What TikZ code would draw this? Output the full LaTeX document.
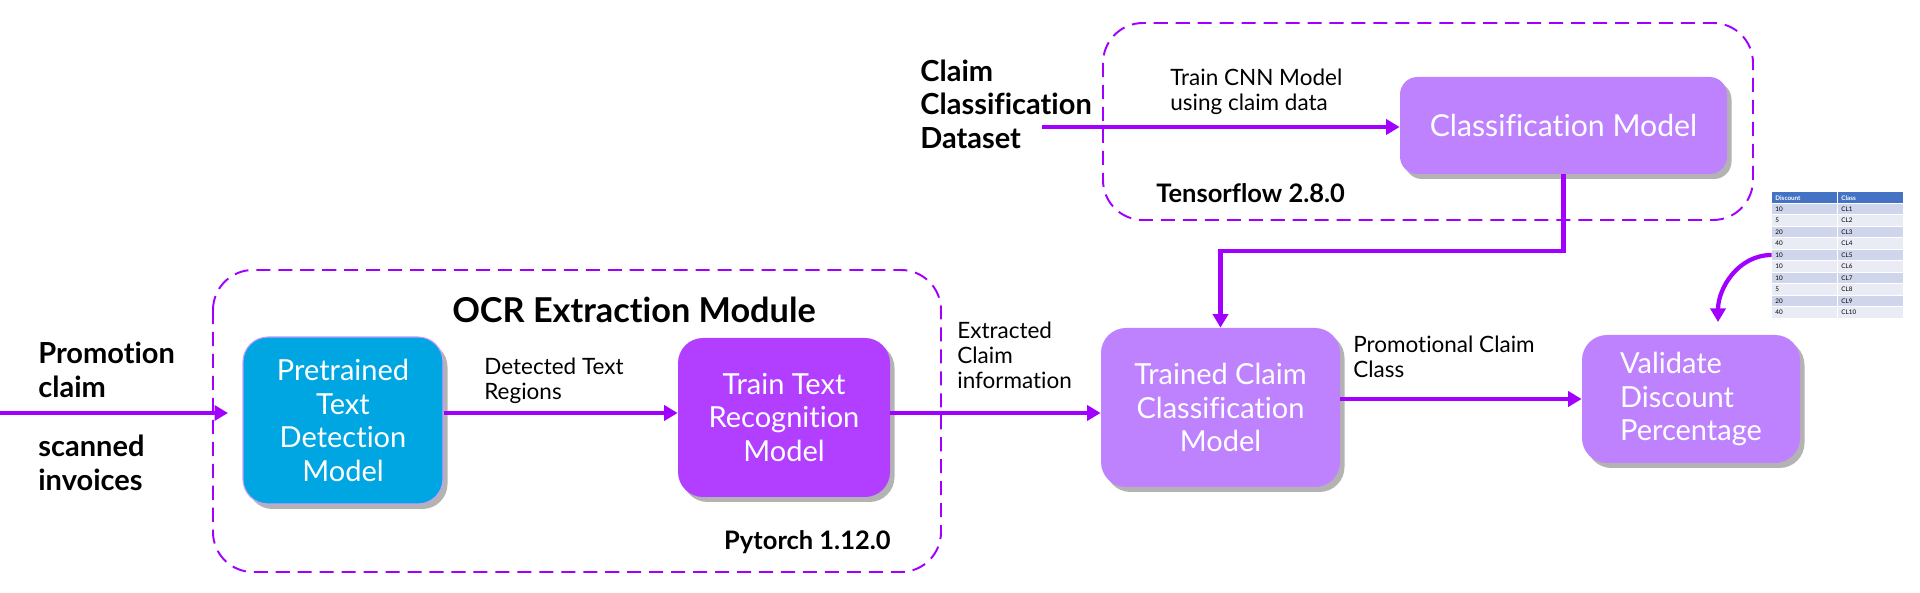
\documentclass[tikz,border=0pt]{standalone}
\usepackage{fontspec}
\setmainfont{Lato}[Ligatures=NoCommon]
\usepackage{xcolor}
\definecolor{cPurple}{HTML}{A100FF}
\definecolor{cBlue}{HTML}{00A6E1}
\definecolor{cViolet}{HTML}{B23EFF}
\definecolor{cLilac}{HTML}{BE82FF}
\definecolor{cHead}{HTML}{4472C4}
\definecolor{cRowA}{HTML}{CFD5EA}
\definecolor{cRowB}{HTML}{E9EBF5}
\usepackage{tikz}
\usetikzlibrary{positioning,arrows.meta,shadows,calc}
\newcommand{\upx}{0.2mm}
\tikzset{
  node-box/.style={rounded corners=5mm,align=center,text=white,inner sep=0pt,
    font=\fontsize{16.5}{19}\selectfont,
    drop shadow={shadow xshift=0.9mm,shadow yshift=-1mm,opacity=0.6}},
  node-blue/.style={node-box,fill=cBlue,draw=cLilac!80,line width=0.6pt},
  node-violet/.style={node-box,fill=cViolet},
  node-lilac/.style={node-box,fill=cLilac},
  frame/.style={draw=cPurple,line width=1.1pt,dash pattern=on 8pt off 4.5pt,
    rounded corners=8mm},
  arrow/.style={-{Triangle[length=2.7mm,width=3mm]},line width=0.85mm,draw=cPurple},
  label-bold/.style={font=\bfseries\fontsize{16.5}{19}\selectfont,align=left,inner sep=0pt},
  label-title/.style={font=\bfseries\fontsize{19.5}{22}\selectfont,inner sep=0pt},
  label-tool/.style={font=\bfseries\fontsize{14.5}{16}\selectfont,inner sep=0pt},
  label-edge/.style={font=\fontsize{12.8}{14.2}\selectfont,align=left,inner sep=0pt},
  table-txt/.style={font=\fontsize{3.6}{4}\selectfont,anchor=west,inner sep=0pt},
}

\begin{document}
\begin{tikzpicture}[x=0.2mm,y=-0.2mm]
  \useasboundingbox (0,0) rectangle (1920,593);
  % module frames
  \draw[frame] (213,270) rectangle (941,572);
  \draw[frame] (1103,23) rectangle (1753,220);
  \node[label-title] (ocr-title) at (634,310) {OCR Extraction Module};
  \node[label-tool,anchor=east] (pytorch) at (891,542) {Pytorch 1.12.0};
  \node[label-tool,anchor=west] (tensorflow) at (1156,193) {Tensorflow 2.8.0};
  % inputs
  \node[label-bold,anchor=west] (promo) at (38,370) {Promotion\\claim};
  \node[label-bold,anchor=west] (scanned) at (38,463) {scanned\\invoices};
  \node[label-bold,anchor=west] (dataset) at (920,104) {Claim\\Classification\\Dataset};
  % models
  \node[node-blue,minimum width=200*\upx,minimum height=167*\upx] (pretrained)
    at (343,420.5) {Pretrained\\Text\\Detection\\Model};
  \node[node-violet,minimum width=212*\upx,minimum height=159*\upx] (traintext)
    at (784,417.5) {Train Text\\Recognition\\Model};
  \node[node-lilac,minimum width=239*\upx,minimum height=159*\upx] (trained)
    at (1220.5,407.5) {Trained Claim\\Classification\\Model};
  \node[node-lilac,minimum width=218*\upx,minimum height=128*\upx,align=left] (validate)
    at (1691,399) {Validate\\Discount\\Percentage};
  \node[node-lilac,rounded corners=3.5mm,minimum width=327*\upx,minimum height=97*\upx,
    font=\fontsize{17.2}{20}\selectfont] (classif) at (1563.5,125.5) {Classification Model};
  % discount table
  \node[minimum width=131*\upx,minimum height=126*\upx,inner sep=0pt] (tbl) at (1837.5,255) {};
  \fill[cHead] (1772,192) rectangle (1903,203.45);
  \node[table-txt,text=white,font=\bfseries\fontsize{3.6}{4}\selectfont] at (1775,197.7) {Discount};
  \node[table-txt,text=white,font=\bfseries\fontsize{3.6}{4}\selectfont] at (1841,197.7) {Class};
  \foreach \d/\c/\f [count=\i] in {10/CL1/cRowA,5/CL2/cRowB,20/CL3/cRowA,40/CL4/cRowB,
      10/CL5/cRowA,10/CL6/cRowB,10/CL7/cRowA,5/CL8/cRowB,20/CL9/cRowA,40/CL10/cRowB} {
    \fill[\f] (1772,{192+11.45*\i}) rectangle (1903,{192+11.45*(\i+1)});
    \node[table-txt] at (1775,{192+11.45*(\i+0.5)}) {\d};
    \node[table-txt] at (1841,{192+11.45*(\i+0.5)}) {\c};
    \draw[white,line width=0.5pt] (1772,{192+11.45*\i}) -- (1903,{192+11.45*\i});
  }
  \draw[white,line width=0.5pt] (1837.5,192) -- (1837.5,318);
  % edge labels
  \node[label-edge,anchor=west] (lbl-detected) at (484,381) {Detected Text\\Regions};
  \node[label-edge,anchor=west] (lbl-extracted) at (957,355) {Extracted\\Claim\\information};
  \node[label-edge,anchor=west] (lbl-class) at (1353,357) {Promotional Claim\\Class};
  \node[label-edge,anchor=west] (lbl-cnn) at (1170,92) {Train CNN Model\\using claim data};
  % connectors
  \coordinate (in-start) at (0,413);
  \coordinate (ocr-in) at (228,413);
  \coordinate (ds-out) at (1042,127);
  \coordinate (val-in) at (1718,322);
  \draw[arrow] (in-start) -- (ocr-in);
  \draw[arrow] (pretrained.east |- in-start) -- (traintext.west |- in-start);
  \draw[arrow] (traintext.east |- in-start) -- (trained.west |- in-start);
  \draw[arrow] (trained.east |- validate.west) -- (validate.west);
  \draw[arrow] (ds-out) -- (classif.west |- ds-out);
  \draw[arrow] (classif.south) -- ++(0,77) -| (trained.north);
  \draw[arrow] (tbl.west) to[out=180,in=90] (val-in);
\end{tikzpicture}
\end{document}
